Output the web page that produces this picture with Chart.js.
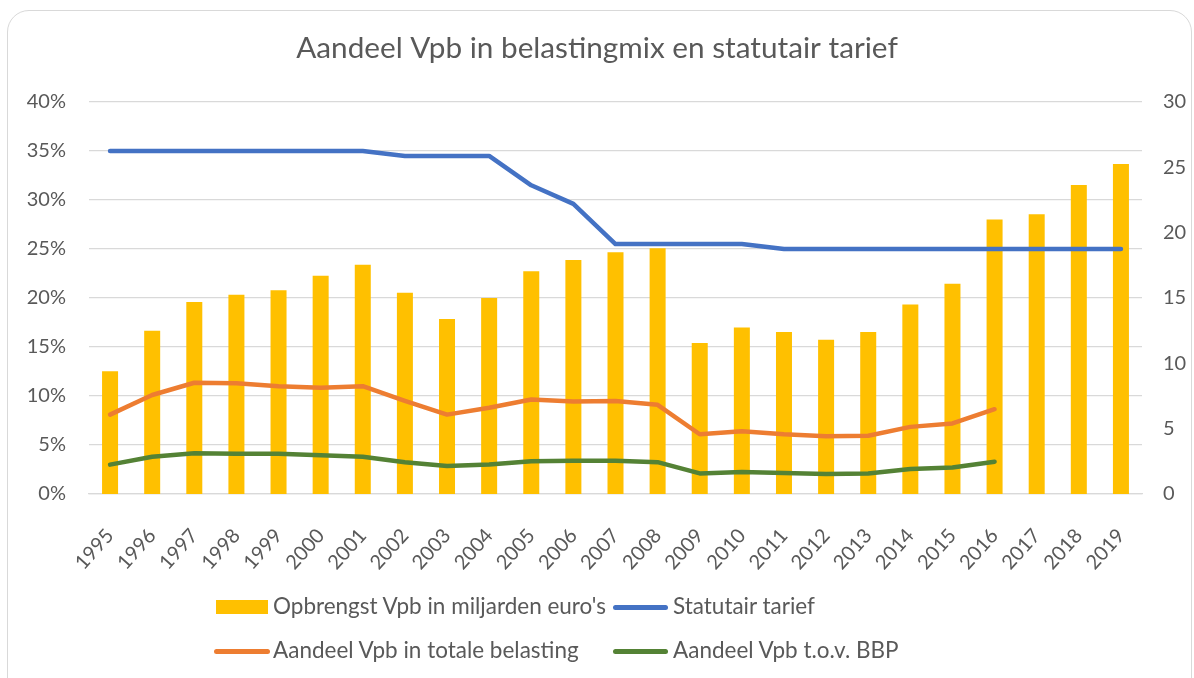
<!DOCTYPE html>
<html>
<head>
<meta charset="utf-8">
<script src="https://cdn.jsdelivr.net/npm/chart.js@4/dist/chart.umd.min.js"></script>
<style>
  html, body { margin: 0; padding: 0; background: #fff; }
  #wrap { position: relative; width: 1194px; height: 678px; overflow: hidden; background: #fff; }
  #frame { position: absolute; left: 7px; top: 10px; width: 1185px; height: 720px; border: 1.5px solid #d9d9d9; border-radius: 22px; box-sizing: border-box; }
  canvas { position: absolute; left: 0; top: 0; }
  .lg { position: absolute; font-family: Lato, sans-serif; color: #595959; white-space: nowrap; line-height: 1; }
  .sym { position: absolute; }
</style>
</head>
<body>
<div id="wrap">
  <div id="frame"></div>
  <canvas id="c" width="1194" height="678"></canvas>
  <div id="legend"></div>
</div>
<script>
const years = ['1995','1996','1997','1998','1999','2000','2001','2002','2003','2004','2005','2006','2007','2008','2009','2010','2011','2012','2013','2014','2015','2016','2017','2018','2019'];
const opbrengstVpb = [9.4, 12.5, 14.7, 15.25, 15.6, 16.7, 17.55, 15.4, 13.4, 15.0, 17.05, 17.9, 18.5, 18.8, 11.55, 12.75, 12.4, 11.8, 12.4, 14.5, 16.1, 21.0, 21.4, 23.65, 25.25];
const statutairTarief = [35, 35, 35, 35, 35, 35, 35, 34.5, 34.5, 34.5, 31.5, 29.6, 25.5, 25.5, 25.5, 25.5, 25, 25, 25, 25, 25, 25, 25, 25, 25];
const aandeelTotaleBelasting = [8.1, 10.1, 11.35, 11.3, 11.0, 10.85, 11.0, 9.5, 8.1, 8.8, 9.65, 9.45, 9.5, 9.1, 6.1, 6.4, 6.1, 5.9, 5.95, 6.85, 7.2, 8.65, null, null, null];
const aandeelBBP = [3.0, 3.8, 4.15, 4.1, 4.1, 3.95, 3.8, 3.25, 2.85, 3.0, 3.35, 3.4, 3.4, 3.25, 2.1, 2.25, 2.15, 2.05, 2.1, 2.55, 2.7, 3.3, null, null, null];
const leftTicks = [0, 5, 10, 15, 20, 25, 30, 35, 40];
const rightTicks = [0, 5, 10, 15, 20, 25, 30];

const labels = {
  bar: "Opbrengst Vpb in miljarden euro's",
  stat: 'Statutair tarief',
  tot: 'Aandeel Vpb in totale belasting',
  bbp: 'Aandeel Vpb t.o.v. BBP'
};
const title = 'Aandeel Vpb in belastingmix en statutair tarief';

const C = { bar: '#FFC000', blue: '#4472C4', orange: '#ED7D31', green: '#548235', text: '#595959', grid: '#d9d9d9' };
const FONT = 'Lato';

function fitSize(text, target, base) {
  const cx = document.createElement('canvas').getContext('2d');
  cx.font = base + 'px ' + FONT;
  return base * target / cx.measureText(text).width;
}

function build() {
  const titleSize = fitSize(title, 602, 26);
  const legendSize = fitSize(labels.bar, 334, 20);
  const tickSize = 20;

  const lg = document.getElementById('legend');
  const items = [
    { t: labels.bar, kind: 'box', color: C.bar, x: 216, y: 607 },
    { t: labels.stat, kind: 'line', color: C.blue, x: 613, y: 607 },
    { t: labels.tot, kind: 'line', color: C.orange, x: 214, y: 651 },
    { t: labels.bbp, kind: 'line', color: C.green, x: 613, y: 651 }
  ];
  items.forEach(it => {
    const s = document.createElement('div');
    s.className = 'sym';
    if (it.kind === 'box') {
      s.style.cssText = `left:${it.x}px;top:${it.y - 7}px;width:52px;height:14px;background:${it.color};`;
    } else {
      const w = it.x === 214 ? 56 : 55;
      s.style.cssText = `left:${it.x}px;top:${it.y - 2.5}px;width:${w}px;height:5px;border-radius:3px;background:${it.color};`;
    }
    lg.appendChild(s);
    const d = document.createElement('div');
    d.className = 'lg';
    d.textContent = it.t;
    d.style.fontSize = legendSize + 'px';
    d.style.left = (it.x > 400 ? 673 : 273) + 'px';
    d.style.top = (it.y - legendSize * 0.5 - 1) + 'px';
    lg.appendChild(d);
  });

  new Chart(document.getElementById('c'), {
    type: 'bar',
    data: {
      labels: years,
      datasets: [
        { label: labels.bar, data: opbrengstVpb, yAxisID: 'yR', backgroundColor: C.bar, borderWidth: 0, barPercentage: 0.38, categoryPercentage: 1, order: 4 },
        { type: 'line', label: labels.stat, data: statutairTarief, yAxisID: 'yL', borderColor: C.blue, borderWidth: 4.5, pointRadius: 0, tension: 0, borderCapStyle: 'round', borderJoinStyle: 'round', fill: false, order: 1 },
        { type: 'line', label: labels.tot, data: aandeelTotaleBelasting, yAxisID: 'yL', borderColor: C.orange, borderWidth: 4.5, pointRadius: 0, tension: 0, borderCapStyle: 'round', borderJoinStyle: 'round', fill: false, order: 2 },
        { type: 'line', label: labels.bbp, data: aandeelBBP, yAxisID: 'yL', borderColor: C.green, borderWidth: 4.5, pointRadius: 0, tension: 0, borderCapStyle: 'round', borderJoinStyle: 'round', fill: false, order: 3 }
      ]
    },
    options: {
      responsive: false,
      animation: false,
      events: [],
      layout: { padding: { left: 0, right: 0, top: 0, bottom: 104 } },
      plugins: {
        legend: { display: false },
        tooltip: { enabled: false },
        title: {
          display: true, text: title, color: C.text,
          font: { family: FONT, size: titleSize, weight: 'normal', lineHeight: 1.2 },
          padding: { top: 48 - titleSize * 0.6, bottom: 102 - 48 - titleSize * 0.6 }
        }
      },
      scales: {
        x: {
          grid: { display: false, drawTicks: false },
          border: { display: true, color: C.grid, width: 1.3 },
          ticks: { color: C.text, font: { family: FONT, size: tickSize }, minRotation: 48, maxRotation: 48, padding: 30, autoSkip: false },
          afterFit: s => { s.height = 80; }
        },
        yL: {
          position: 'left', min: 0, max: 40,
          afterBuildTicks: s => { s.ticks = leftTicks.map(v => ({ value: v })); },
          grid: { color: C.grid, lineWidth: 1.3, drawTicks: false },
          border: { display: false },
          ticks: { color: C.text, font: { family: FONT, size: tickSize }, padding: 23, callback: v => v + '%' },
          afterFit: s => { s.width = 89; }
        },
        yR: {
          position: 'right', min: 0, max: 30,
          afterBuildTicks: s => { s.ticks = rightTicks.map(v => ({ value: v })); },
          grid: { display: false, drawTicks: false },
          border: { display: false },
          ticks: { color: C.text, font: { family: FONT, size: tickSize }, padding: 21, callback: v => String(v) },
          afterFit: s => { s.width = 52; }
        }
      }
    }
  });
}

if (document.fonts && document.fonts.load) {
  Promise.all([document.fonts.load('20px Lato')]).then(build, build);
} else { build(); }
</script>
</body>
</html>
